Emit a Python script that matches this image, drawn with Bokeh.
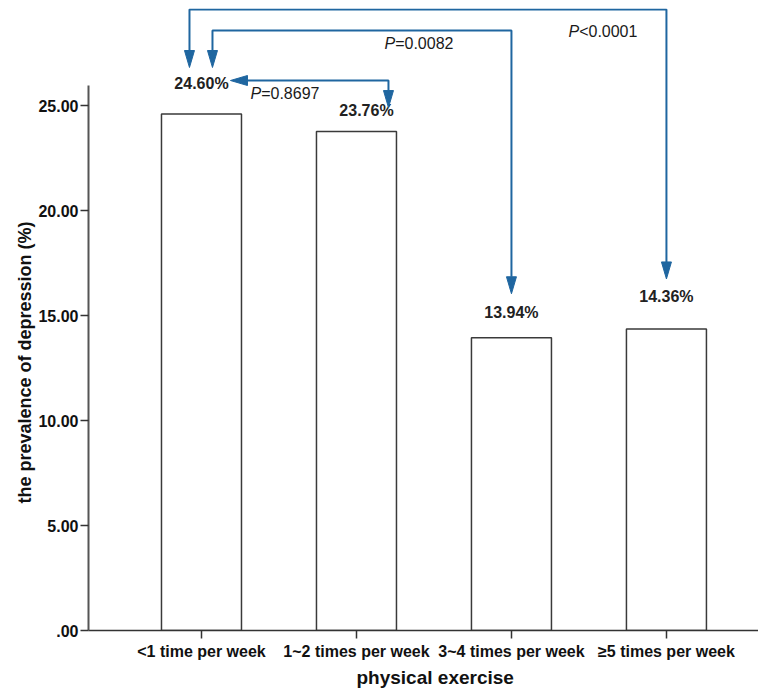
from bokeh.plotting import figure
from bokeh.models import Range1d, FixedTicker, ColumnDataSource, Title
from bokeh.embed import file_html
from bokeh.resources import INLINE
from bokeh.core.properties import value

# ---- data ----
categories = ["<1 time per week", "1~2 times per week", "3~4 times per week", "\u22655 times per week"]
prevalence = [24.60, 23.76, 13.94, 14.36]
value_labels = ["24.60%", "23.76%", "13.94%", "14.36%"]
y_ticks = [0, 5, 10, 15, 20, 25]
y_tick_labels = [".00", "5.00", "10.00", "15.00", "20.00", "25.00"]
p_compare_from = [0, 0, 0]
p_compare_to = [1, 2, 3]
p_texts = ["=0.8697", "=0.0082", "<0.0001"]
x_title = "physical exercise"
y_title = "the prevalence of depression (%)"

# ---- layout / style ----
FONT = "Liberation Sans"
BLUE = "#1f66a0"
FRAME_W, FRAME_H = 670, 622
LEFT, TOP = 88, 8
X0, X1 = -0.729, 3.594
Y1 = 29.62
ux = (X1 - X0) / FRAME_W
uy = Y1 / FRAME_H


def yv(page_y):
    return (TOP + FRAME_H - page_y) * uy


label_gap_px = [30, 21.5, 25, 32]
label_dx_px = [0, 10, 0, 0]
arrow_style = [
    dict(level=80, a_dx=29, b_dx=32, b_gap=24, kind="side", lab_dx=-106, lab_y=93),
    dict(level=30, a_dx=11, b_dx=0, a_tip=67, b_gap=44, kind="bracket", lab_dx=-127, lab_y=42.5),
    dict(level=9, a_dx=-12, b_dx=0, a_tip=67, b_gap=50, kind="bracket", lab_dx=-98, lab_y=30.5),
]
HEAD_L, HEAD_W = 17, 10

xs = list(range(len(categories)))

p = figure(frame_width=FRAME_W, frame_height=FRAME_H,
           x_range=Range1d(X0, X1), y_range=Range1d(0, Y1),
           output_backend="svg", toolbar_location=None,
           min_border_left=LEFT, min_border_right=0, min_border_top=TOP, min_border_bottom=50)
p.outline_line_color = None
p.grid.visible = False
p.background_fill_color = "white"

src = ColumnDataSource(dict(x=xs, top=prevalence, lab=value_labels, dx=label_dx_px,
                            ly=[v + g * uy for v, g in zip(prevalence, label_gap_px)]))
p.vbar(x="x", top="top", width=80 * ux, bottom=0, source=src,
       fill_color="white", line_color="#3a3a3a", line_width=1.5)
p.text(x="x", y="ly", text="lab", source=src, x_offset="dx", text_align="center", text_baseline="middle",
       text_font=value(FONT), text_font_size="16px", text_font_style="bold", text_color="#222222")

# comparison arrows
line_xs, line_ys, head_xs, head_ys = [], [], [], []
px_lab_x, px_lab_y, rest_text = [], [], []
for a, b, t, st in zip(p_compare_from, p_compare_to, p_texts, arrow_style):
    lvl = yv(st["level"])
    xb = b + st["b_dx"] * ux
    yb_tip = prevalence[b] + st["b_gap"] * uy
    if st["kind"] == "side":
        xa_tip = a + st["a_dx"] * ux
        line_xs.append([xa_tip + HEAD_L * ux, xb, xb])
        line_ys.append([lvl, lvl, yb_tip + HEAD_L * uy])
        head_xs.append([xa_tip + HEAD_L * ux, xa_tip + HEAD_L * ux, xa_tip])
        head_ys.append([lvl + HEAD_W / 2 * uy, lvl - HEAD_W / 2 * uy, lvl])
    else:
        xa = a + st["a_dx"] * ux
        ya_tip = yv(st["a_tip"])
        line_xs.append([xa, xa, xb, xb])
        line_ys.append([ya_tip + HEAD_L * uy, lvl, lvl, yb_tip + HEAD_L * uy])
        head_xs.append([xa - HEAD_W / 2 * ux, xa + HEAD_W / 2 * ux, xa])
        head_ys.append([ya_tip + HEAD_L * uy, ya_tip + HEAD_L * uy, ya_tip])
    head_xs.append([xb - HEAD_W / 2 * ux, xb + HEAD_W / 2 * ux, xb])
    head_ys.append([yb_tip + HEAD_L * uy, yb_tip + HEAD_L * uy, yb_tip])
    px_lab_x.append(b + st["lab_dx"] * ux)
    px_lab_y.append(yv(st["lab_y"]))
    rest_text.append(t)

p.multi_line(xs=line_xs, ys=line_ys, line_color=BLUE, line_width=2)
p.patches(xs=head_xs, ys=head_ys, fill_color=BLUE, line_color=BLUE, line_width=1)

psrc = ColumnDataSource(dict(x=px_lab_x, y=px_lab_y, rest=rest_text, P=["P"] * len(rest_text)))
p.text(x="x", y="y", text="P", source=psrc, text_align="left", text_baseline="middle",
       text_font=value(FONT), text_font_size="16px", text_font_style="italic", text_color="#1a1a1a")
p.text(x="x", y="y", text="rest", source=psrc, text_align="left", text_baseline="middle", x_offset=10.7,
       text_font=value(FONT), text_font_size="16px", text_color="#1a1a1a")

# axes
yax = p.yaxis[0]
yax.ticker = FixedTicker(ticks=y_ticks)
yax.major_label_overrides = {t: l for t, l in zip(y_ticks, y_tick_labels)}
yax.bounds = (0, 25.95)
yax.axis_line_color = "#555555"
yax.axis_line_width = 2
yax.major_tick_line_color = "#333333"
yax.major_tick_line_width = 1.5
yax.major_tick_out = 8
yax.major_tick_in = 0
yax.minor_tick_out = 0
yax.minor_tick_in = 0
yax.major_label_standoff = 2
yax.major_label_text_font = FONT
yax.major_label_text_font_size = "16px"
yax.major_label_text_font_style = "bold"
yax.major_label_text_color = "#111111"

xax = p.xaxis[0]
xax.ticker = FixedTicker(ticks=xs)
xax.major_label_overrides = {i: c for i, c in zip(xs, categories)}
xax.axis_line_color = "#333333"
xax.axis_line_width = 1.5
xax.major_tick_line_color = "#333333"
xax.major_tick_line_width = 1.5
xax.major_tick_out = 8
xax.major_tick_in = 0
xax.minor_tick_out = 0
xax.minor_tick_in = 0
xax.major_label_standoff = 4
xax.major_label_text_font = FONT
xax.major_label_text_font_size = "16px"
xax.major_label_text_font_style = "bold"
xax.major_label_text_color = "#111111"

# axis titles as side titles, offset so they are centred like the original
p.add_layout(Title(text=x_title, align="left", offset=268, standoff=4, text_font=FONT,
                   text_font_size="19px", text_font_style="bold", text_color="#111111"), "below")
p.add_layout(Title(text=y_title, align="left", offset=127, standoff=2, text_font=FONT,
                   text_font_size="18px", text_font_style="bold", text_color="#111111"), "left")

open("out.html", "w").write(file_html(p, INLINE))
